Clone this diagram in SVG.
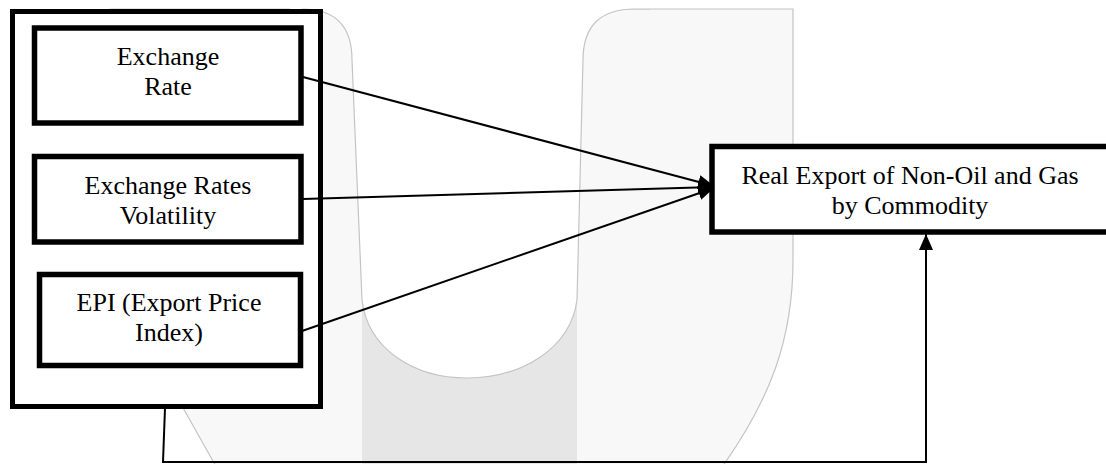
<svg xmlns="http://www.w3.org/2000/svg" width="1106" height="464" viewBox="0 0 1106 464">
<style>
.box{fill:#fff;stroke:#000;stroke-width:5.5}
.lbl{font-family:"Liberation Serif","Times New Roman",serif;font-size:26px;fill:#000;text-anchor:middle}
.conn{fill:none;stroke:#000;stroke-width:2}
.wm{fill:#f8f8f8;stroke:#c4c4c4;stroke-width:1.2}
.wmline{fill:none;stroke:#c4c4c4;stroke-width:1.2}
</style>
<defs>
<marker id="arr" markerUnits="userSpaceOnUse" markerWidth="18" markerHeight="16" refX="16" refY="8" orient="auto">
<path d="M0,1 L16,8 L0,15 Z" fill="#000"/>
</marker>
</defs>
<rect width="1106" height="464" fill="#fff"/>
<g id="watermark">
<path class="wm" d="M110,9 H793 V260 C793,340 770,400 720,470 H218 L182,406 L110,300 Z"/>
<rect x="362" y="300" width="215" height="170" fill="#e6e6e7"/>
<path d="M290,-5 V9 H302 Q352,9 352,60 L362,300 C368,350 415,378 467,378 C520,378 570,350 577,300 L583,60 Q583,9 635,9 H650 V-5 Z" fill="#fff"/>
<path class="wmline" d="M302,9 Q352,9 352,60 L362,300 C368,350 415,378 467,378 C520,378 570,350 577,300 L583,60 Q583,9 635,9 H650"/>
</g>
<g id="group-box">
<rect x="12.5" y="11.5" width="308" height="395" fill="#fff" stroke="#000" stroke-width="5"/>
</g>
<g id="node-exchange-rate">
<rect class="box" x="34.5" y="28" width="266.5" height="95"/>
<text class="lbl" x="168" y="65">Exchange</text>
<text class="lbl" x="168" y="95">Rate</text>
</g>
<g id="node-volatility">
<rect class="box" x="34.5" y="156.5" width="266.5" height="85.5"/>
<text class="lbl" x="168" y="194">Exchange Rates</text>
<text class="lbl" x="168" y="224">Volatility</text>
</g>
<g id="node-epi">
<rect class="box" x="39.5" y="274.5" width="261" height="91"/>
<text class="lbl" x="169" y="311">EPI (Export Price</text>
<text class="lbl" x="169" y="341">Index)</text>
</g>
<g id="node-real-export">
<rect class="box" x="712" y="146.5" width="400" height="85.5"/>
<text class="lbl" x="910" y="184">Real Export of Non-Oil and Gas</text>
<text class="lbl" x="910" y="214">by Commodity</text>
</g>
<g id="connectors">
<line class="conn" x1="303" y1="77" x2="714" y2="186" marker-end="url(#arr)"/>
<line class="conn" x1="303" y1="199" x2="714" y2="187" marker-end="url(#arr)"/>
<line class="conn" x1="302" y1="331" x2="714" y2="188" marker-end="url(#arr)"/>
<polyline class="conn" points="165,408 163,462 926,462 926,234" marker-end="url(#arr)"/>
</g>
</svg>
